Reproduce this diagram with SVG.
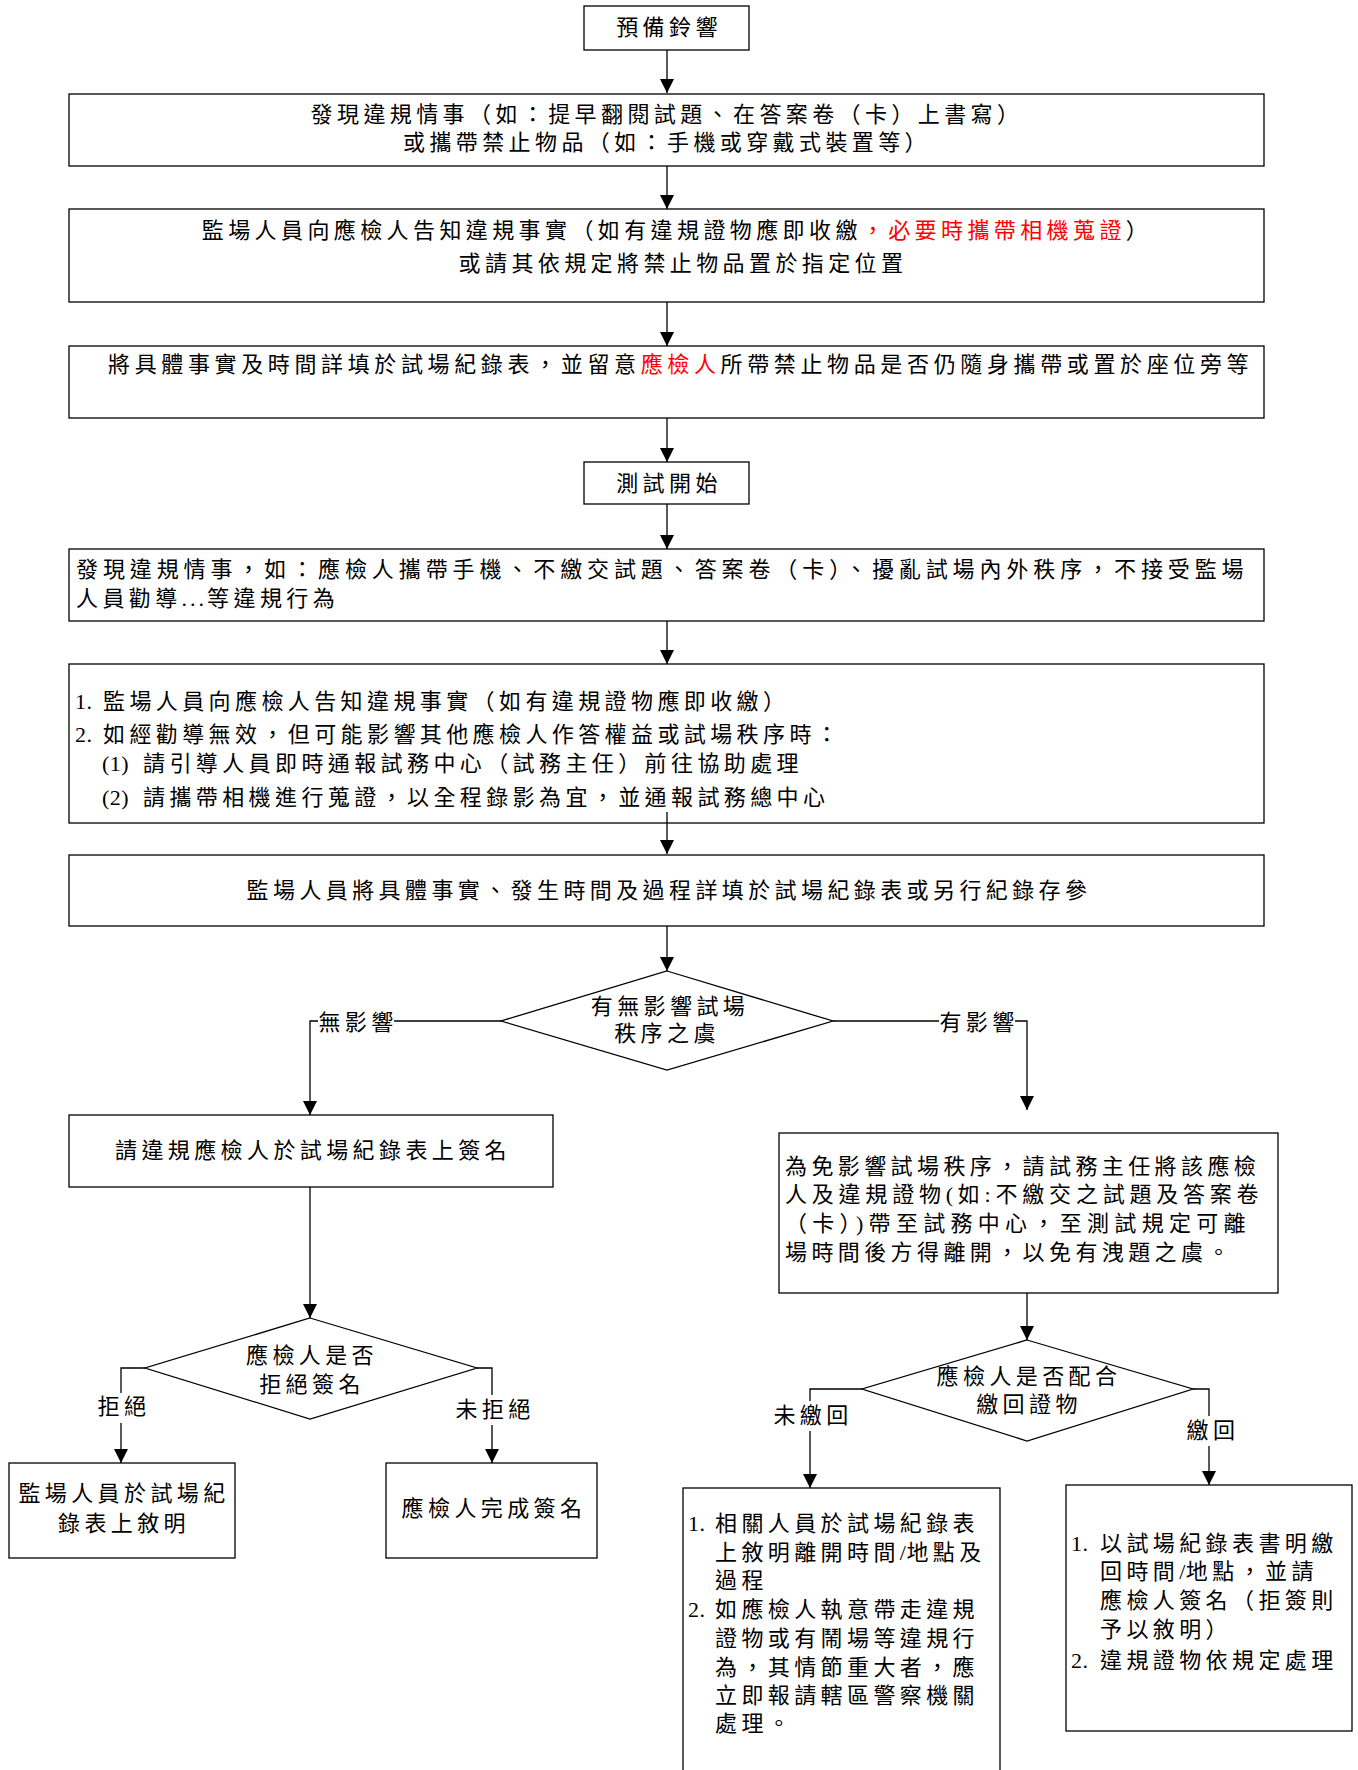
<svg xmlns="http://www.w3.org/2000/svg" width="1358" height="1770" viewBox="0 0 1358 1770">
<style>
.box{fill:#fff;stroke:#000;stroke-width:1.3}
.t{font-family:"Liberation Serif","Noto Sans CJK TC",serif;font-size:22px;letter-spacing:4.4px;fill:#000;dominant-baseline:central}
.m{text-anchor:middle}
.n{letter-spacing:0.5px}
.d{letter-spacing:3px}
.red{fill:#f00}
.ln{fill:none;stroke:#000;stroke-width:1.3}
.bg{fill:#fff;stroke:none}
</style>
<defs>
<marker id="ah" markerUnits="userSpaceOnUse" markerWidth="14" markerHeight="14" refX="14" refY="7" orient="auto"><path d="M0,0 L14,7 L0,14 z" fill="#000"/></marker>
</defs>
<rect width="1358" height="1770" fill="#fff"/>
<g id="connectors">
<path class="ln" d="M667,50 V93" marker-end="url(#ah)"/>
<path class="ln" d="M667,166 V209" marker-end="url(#ah)"/>
<path class="ln" d="M667,302 V346" marker-end="url(#ah)"/>
<path class="ln" d="M667,418 V462" marker-end="url(#ah)"/>
<path class="ln" d="M667,504 V549" marker-end="url(#ah)"/>
<path class="ln" d="M667,621 V664" marker-end="url(#ah)"/>
<path class="ln" d="M667,926 V971" marker-end="url(#ah)"/>
<path class="ln" d="M501,1021 H310 V1115" marker-end="url(#ah)"/>
<path class="ln" d="M833,1021 H1027 V1110" marker-end="url(#ah)"/>
<path class="ln" d="M310,1187 V1318" marker-end="url(#ah)"/>
<path class="ln" d="M145,1368 H121 V1463" marker-end="url(#ah)"/>
<path class="ln" d="M477,1368 H492 V1463" marker-end="url(#ah)"/>
<path class="ln" d="M1027,1293 V1340" marker-end="url(#ah)"/>
<path class="ln" d="M862,1389 H810 V1488" marker-end="url(#ah)"/>
<path class="ln" d="M1193,1389 H1209 V1485" marker-end="url(#ah)"/>
<rect class="bg" x="318" y="1009" width="76" height="25"/>
<text class="t m" x="358" y="1022">無影響</text>
<rect class="bg" x="939" y="1009" width="76" height="25"/>
<text class="t m" x="979" y="1022">有影響</text>
<rect class="bg" x="98" y="1393" width="50" height="30"/>
<text class="t m" x="124" y="1406">拒絕</text>
<rect class="bg" x="455" y="1395" width="76" height="30"/>
<text class="t m" x="495" y="1409">未拒絕</text>
<rect class="bg" x="773" y="1401" width="76" height="30"/>
<text class="t m" x="813" y="1415">未繳回</text>
<rect class="bg" x="1186" y="1416" width="50" height="30"/>
<text class="t m" x="1213" y="1430">繳回</text>
</g>
<g id="n1"><rect class="box" x="584" y="6" width="165" height="44"/><text class="t m" x="669" y="27">預備鈴響</text></g>
<g id="n2"><rect class="box" x="69" y="94" width="1195" height="72"/>
<text class="t m" x="667" y="114">發現違規情事（如：提早翻閱試題、在答案卷（卡）上書寫）</text>
<text class="t m" x="667" y="142">或攜帶禁止物品（如：手機或穿戴式裝置等）</text></g>
<g id="n3"><rect class="box" x="69" y="209" width="1195" height="93"/>
<text class="t m" x="677" y="230">監場人員向應檢人告知違規事實（如有違規證物應即收繳<tspan class="red">，必要時攜帶相機蒐證</tspan>）</text>
<text class="t m" x="683" y="263">或請其依規定將禁止物品置於指定位置</text></g>
<g id="n4"><rect class="box" x="69" y="346" width="1195" height="72"/>
<text class="t" x="108" y="364" textLength="1145" lengthAdjust="spacing">將具體事實及時間詳填於試場紀錄表，並留意<tspan class="red">應檢人</tspan>所帶禁止物品是否仍隨身攜帶或置於座位旁等</text></g>
<g id="n5"><rect class="box" x="584" y="462" width="165" height="42"/><text class="t m" x="669" y="483">測試開始</text></g>
<g id="n6"><rect class="box" x="69" y="549" width="1195" height="72"/>
<text class="t" x="76" y="569" textLength="1172" lengthAdjust="spacing">發現違規情事，如：應檢人攜帶手機、不繳交試題、答案卷（卡）、擾亂試場內外秩序，不接受監場</text>
<text class="t" x="76" y="598">人員勸導<tspan class="d">...</tspan>等違規行為</text></g>
<g id="n7"><rect class="box" x="69" y="664" width="1195" height="159"/>
<text class="t n" x="75" y="701">1.</text><text class="t" x="103" y="701">監場人員向應檢人告知違規事實（如有違規證物應即收繳）</text>
<text class="t n" x="75" y="734">2.</text><text class="t" x="103" y="734">如經勸導無效，但可能影響其他應檢人作答權益或試場秩序時：</text>
<text class="t n" x="102" y="763">(1)</text><text class="t" x="143" y="763">請引導人員即時通報試務中心（試務主任）前往協助處理</text>
<text class="t n" x="102" y="797">(2)</text><text class="t" x="143" y="797">請攜帶相機進行蒐證，以全程錄影為宜，並通報試務總中心</text></g>
<path class="ln" d="M667,812 V854" marker-end="url(#ah)"/>
<g id="n8"><rect class="box" x="69" y="855" width="1195" height="71"/>
<text class="t m" x="669" y="890">監場人員將具體事實、發生時間及過程詳填於試場紀錄表或另行紀錄存參</text></g>
<g id="d1"><polygon class="box" points="667,971 833,1021 667,1070 501,1021"/>
<text class="t m" x="670" y="1006">有無影響試場</text>
<text class="t m" x="667" y="1033">秩序之虞</text></g>
<g id="n9"><rect class="box" x="69" y="1115" width="484" height="72"/>
<text class="t m" x="313" y="1150">請違規應檢人於試場紀錄表上簽名</text></g>
<g id="d2"><polygon class="box" points="310,1318 477,1368 310,1419 145,1368"/>
<text class="t m" x="312" y="1355">應檢人是否</text>
<text class="t m" x="312" y="1384">拒絕簽名</text></g>
<g id="n10"><rect class="box" x="9" y="1463" width="226" height="95"/>
<text class="t m" x="124" y="1493">監場人員於試場紀</text>
<text class="t m" x="124" y="1523">錄表上敘明</text></g>
<g id="n11"><rect class="box" x="386" y="1463" width="211" height="95"/>
<text class="t m" x="494" y="1508">應檢人完成簽名</text></g>
<g id="n12"><rect class="box" x="779" y="1133" width="499" height="160"/>
<text class="t" x="785" y="1166">為免影響試場秩序，請試務主任將該應檢</text>
<text class="t" x="785" y="1194" textLength="478" lengthAdjust="spacing">人及違規證物(如:不繳交之試題及答案卷</text>
<text class="t" x="785" y="1223" textLength="465" lengthAdjust="spacing">（卡）)帶至試務中心，至測試規定可離</text>
<text class="t" x="785" y="1252">場時間後方得離開，以免有洩題之虞。</text></g>
<g id="d3"><polygon class="box" points="1027,1340 1193,1389 1027,1441 862,1389"/>
<text class="t m" x="1029" y="1376">應檢人是否配合</text>
<text class="t m" x="1029" y="1404">繳回證物</text></g>
<g id="n13"><rect class="box" x="683" y="1488" width="317" height="320"/>
<text class="t n" x="688" y="1523">1.</text><text class="t" x="715" y="1523">相關人員於試場紀錄表</text>
<text class="t" x="715" y="1552">上敘明離開時間<tspan class="n">/</tspan>地點及</text>
<text class="t" x="715" y="1580">過程</text>
<text class="t n" x="688" y="1609">2.</text><text class="t" x="715" y="1609">如應檢人執意帶走違規</text>
<text class="t" x="715" y="1638">證物或有鬧場等違規行</text>
<text class="t" x="715" y="1667">為，其情節重大者，應</text>
<text class="t" x="715" y="1695">立即報請轄區警察機關</text>
<text class="t" x="715" y="1723">處理。</text></g>
<g id="n14"><rect class="box" x="1066" y="1485" width="286" height="246"/>
<text class="t n" x="1071" y="1543">1.</text><text class="t" x="1100" y="1543">以試場紀錄表書明繳</text>
<text class="t" x="1100" y="1571">回時間<tspan class="n">/</tspan>地點，並請</text>
<text class="t" x="1100" y="1600">應檢人簽名（拒簽則</text>
<text class="t" x="1100" y="1629">予以敘明）</text>
<text class="t n" x="1071" y="1660">2.</text><text class="t" x="1100" y="1660">違規證物依規定處理</text></g>
</svg>
